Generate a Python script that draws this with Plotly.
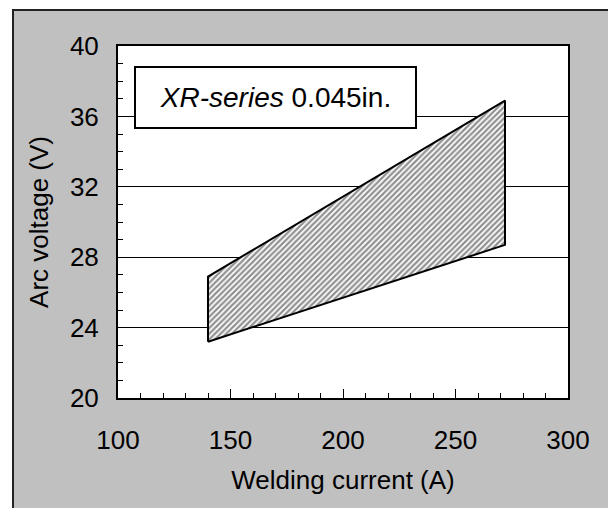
import plotly.graph_objects as go

# Data: envelope of arc voltage vs welding current (polygon corners)
current_a = [140, 140, 272, 272, 140]
voltage_v = [23.2, 26.9, 36.9, 28.7, 23.2]

x_ticks = [100, 150, 200, 250, 300]
y_ticks = [20, 24, 28, 32, 36, 40]
label_text = "<i>XR-series</i> 0.045in."

# page has an 8px body margin, so the figure is drawn from (8, 8)
OFF = 8
W, H = 608, 500
L, R, T, B = 110, 48, 38, 110
pw, ph = W - L - R, H - T - B


def px_x(px):
    return (px - OFF - L) / pw


def px_y(py):
    return (H - B - (py - OFF)) / ph


FONT = "Liberation Sans, Arial, sans-serif"

fig = go.Figure()
fig.add_trace(go.Scatter(
    x=current_a, y=voltage_v, mode="lines", fill="toself",
    line=dict(color="black", width=2),
    fillcolor="white",
    fillpattern=dict(shape="/", size=4, solidity=0.55, fgcolor="#222222", bgcolor="white"),
    showlegend=False, hoverinfo="skip",
))

fig.update_layout(
    width=W, height=H,
    margin=dict(l=L, r=R, t=T, b=B, pad=0),
    paper_bgcolor="#c0c0c0",
    plot_bgcolor="white",
    font=dict(family=FONT, size=26, color="black"),
    xaxis=dict(
        range=[100, 300], tickvals=x_ticks, ticks="inside", ticklen=9, tickwidth=1,
        tickcolor="black", showgrid=False, zeroline=False,
        showline=True, linecolor="black", linewidth=2, mirror=True,
        minor=dict(dtick=10, tick0=100, ticks="inside", ticklen=5, tickwidth=1,
                   tickcolor="black", showgrid=False),
        ticklabelstandoff=18,
        title=dict(text="Welding current (A)", standoff=17, font=dict(size=26)),
        tickfont=dict(size=26),
    ),
    yaxis=dict(
        range=[20, 40], tickvals=y_ticks, ticks="inside", ticklen=5, tickwidth=1,
        tickcolor="black", showgrid=True, gridcolor="black", gridwidth=1,
        zeroline=False,
        showline=True, linecolor="black", linewidth=2, mirror=True,
        minor=dict(dtick=1, tick0=20, ticks="inside", ticklen=5, tickwidth=1,
                   tickcolor="black", showgrid=False),
        ticklabelstandoff=12,
        title=dict(text="Arc voltage (V)", standoff=14, font=dict(size=26)),
        tickfont=dict(size=26),
    ),
    shapes=[
        # white strips outside the gray frame
        dict(type="rect", xref="paper", yref="paper", x0=px_x(-5), x1=px_x(12),
             y0=px_y(H + 30), y1=px_y(-5), fillcolor="white", line=dict(width=0), layer="below"),
        dict(type="rect", xref="paper", yref="paper", x0=px_x(-5), x1=px_x(W + 30),
             y0=px_y(9), y1=px_y(-5), fillcolor="white", line=dict(width=0), layer="below"),
        # frame border lines
        dict(type="line", xref="paper", yref="paper", x0=px_x(13), x1=px_x(13),
             y0=px_y(9), y1=px_y(H + 30), line=dict(color="#222222", width=2)),
        dict(type="line", xref="paper", yref="paper", x0=px_x(12), x1=px_x(W + 30),
             y0=px_y(10), y1=px_y(10), line=dict(color="#222222", width=2)),
    ],
    annotations=[dict(
        text=label_text, xref="paper", yref="paper",
        x=px_x(134), y=px_y(66), xanchor="left", yanchor="top",
        showarrow=False, align="center", valign="middle",
        width=279, height=59, borderpad=0, borderwidth=2,
        bordercolor="black", bgcolor="white",
        font=dict(family=FONT, size=28, color="black"),
    )],
)

fig.write_html("out.html")
